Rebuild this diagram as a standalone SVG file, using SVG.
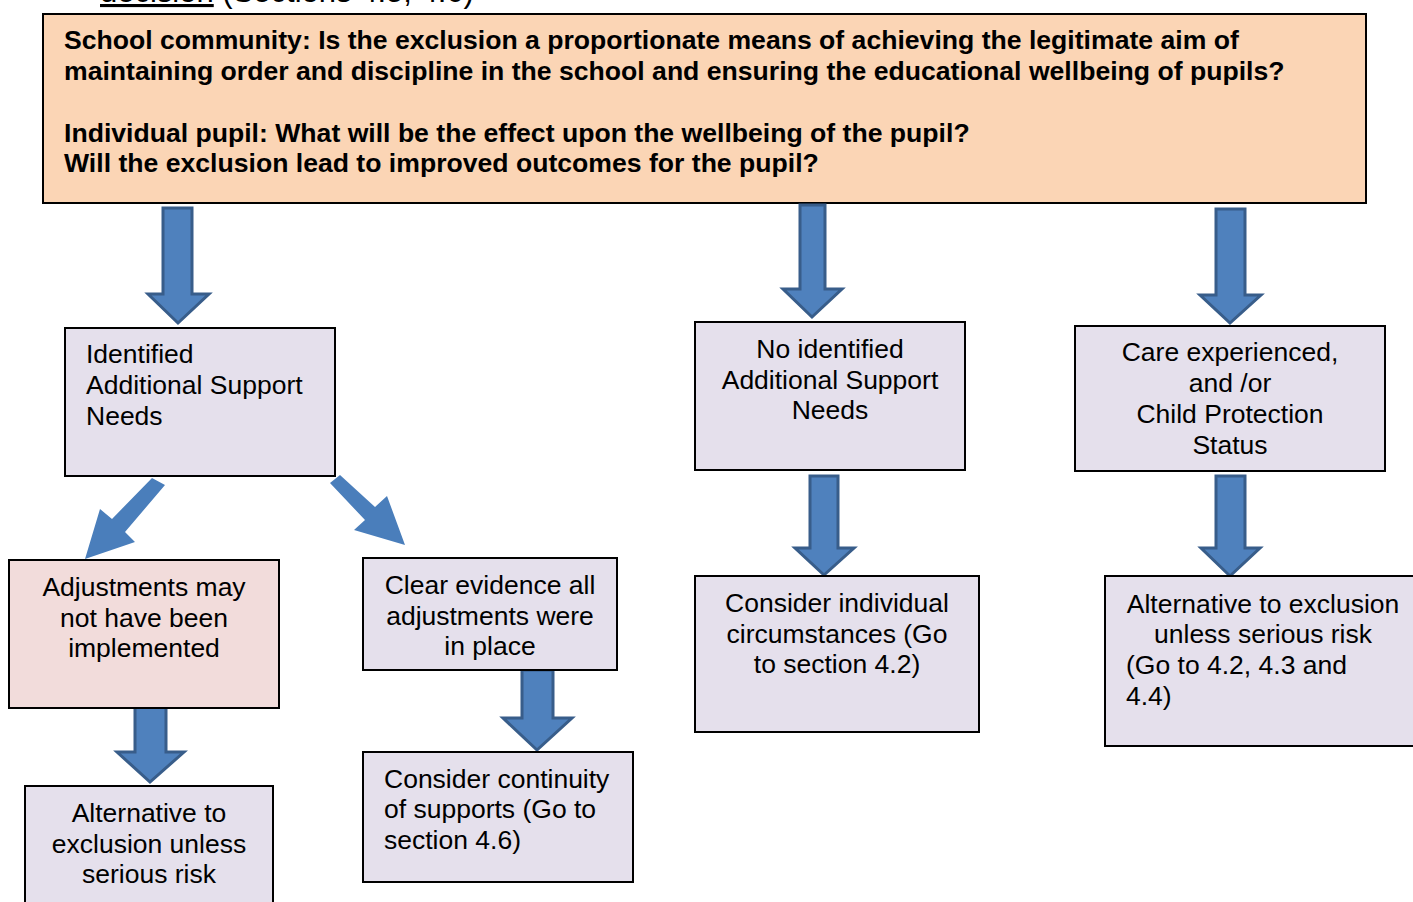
<svg xmlns="http://www.w3.org/2000/svg" width="1413" height="902" viewBox="0 0 1413 902">
<defs>
<style>
.box{stroke:#000;stroke-width:2}
.lav{fill:#E5E0EC}
.pink{fill:#F2DCDB}
.peach{fill:#FBD5B5}
.t{font-family:"Liberation Sans",Arial,sans-serif;font-size:26.5px;fill:#000}
.b{font-family:"Liberation Sans",Arial,sans-serif;font-size:26.6px;font-weight:bold;fill:#000}
.c{text-anchor:middle}
.arr{fill:#4F81BD;stroke:#385D8A;stroke-width:3;stroke-linejoin:miter}
.arrf{fill:#4A7EBB}
</style>
</defs>
<rect width="1413" height="902" fill="#fff"/>
<g id="header-fragment">
<text class="t" x="100" y="2" style="font-size:31px"><tspan text-decoration="underline">decision</tspan> (Sections 4.5, 4.6)</text>
</g>
<g id="top">
<rect class="box peach" x="43" y="14" width="1323" height="189"/>
<text class="b" x="64" y="49">School community: Is the exclusion a proportionate means of achieving the legitimate aim of</text>
<text class="b" x="64" y="80">maintaining order and discipline in the school and ensuring the educational wellbeing of pupils?</text>
<text class="b" x="64" y="142">Individual pupil: What will be the effect upon the wellbeing of the pupil?</text>
<text class="b" x="64" y="172">Will the exclusion lead to improved outcomes for the pupil?</text>
</g>
<g id="connectors">
<polygon class="arr" points="163,208 192,208 192,294 209,294 178,323 148,294 163,294"/>
<polygon class="arr" points="800,205 825,205 825,289 842,289 812,317 783,289 800,289"/>
<polygon class="arr" points="1216,209 1245,209 1245,295 1261,295 1230,323 1200,295 1216,295"/>
<polygon class="arrf" points="152,478 165,485 125,532 135,542 85,559 100,509 112,519"/>
<polygon class="arrf" points="340,475 330,483 365,520 354,530 405,545 387,496 375,507"/>
<polygon class="arr" points="135,705 166,705 166,752 184,752 150,782 117,752 135,752"/>
<polygon class="arr" points="522,670 553,670 553,718 572,718 537,750 503,718 522,718"/>
<polygon class="arr" points="810,476 838,476 838,548 854,548 824,575 795,548 810,548"/>
<polygon class="arr" points="1216,476 1245,476 1245,548 1260,548 1230,576 1201,548 1216,548"/>
</g>
<g id="n-identified">
<rect class="box lav" x="65" y="328" width="270" height="148"/>
<text class="t" x="86" y="363">Identified</text>
<text class="t" x="86" y="394">Additional Support</text>
<text class="t" x="86" y="425">Needs</text>
</g>
<g id="n-noidentified">
<rect class="box lav" x="695" y="322" width="270" height="148"/>
<text class="t c" x="830" y="358">No identified</text>
<text class="t c" x="830" y="389">Additional Support</text>
<text class="t c" x="830" y="419">Needs</text>
</g>
<g id="n-care">
<rect class="box lav" x="1075" y="326" width="310" height="145"/>
<text class="t c" x="1230" y="361">Care experienced,</text>
<text class="t c" x="1230" y="392">and /or</text>
<text class="t c" x="1230" y="423">Child Protection</text>
<text class="t c" x="1230" y="454">Status</text>
</g>
<g id="n-adjustments">
<rect class="box pink" x="9" y="560" width="270" height="148"/>
<text class="t c" x="144" y="596">Adjustments may</text>
<text class="t c" x="144" y="627">not have been</text>
<text class="t c" x="144" y="657">implemented</text>
</g>
<g id="n-clear">
<rect class="box lav" x="363" y="558" width="254" height="112"/>
<text class="t c" x="490" y="594">Clear evidence all</text>
<text class="t c" x="490" y="625">adjustments were</text>
<text class="t c" x="490" y="655">in place</text>
</g>
<g id="n-alt-left">
<rect class="box lav" x="25" y="786" width="248" height="130"/>
<text class="t c" x="149" y="822">Alternative to</text>
<text class="t c" x="149" y="853">exclusion unless</text>
<text class="t c" x="149" y="883">serious risk</text>
</g>
<g id="n-continuity">
<rect class="box lav" x="363" y="752" width="270" height="130"/>
<text class="t" x="384" y="788">Consider continuity</text>
<text class="t" x="384" y="818">of supports (Go to</text>
<text class="t" x="384" y="849">section 4.6)</text>
</g>
<g id="n-individual">
<rect class="box lav" x="695" y="576" width="284" height="156"/>
<text class="t c" x="837" y="612">Consider individual</text>
<text class="t c" x="837" y="643">circumstances (Go</text>
<text class="t c" x="837" y="673">to section 4.2)</text>
</g>
<g id="n-alt-right">
<rect class="box lav" x="1105" y="576" width="320" height="170"/>
<text class="t c" x="1263" y="613">Alternative to exclusion</text>
<text class="t c" x="1263" y="643">unless serious risk</text>
<text class="t" x="1126" y="674">(Go to 4.2, 4.3 and</text>
<text class="t" x="1126" y="705">4.4)</text>
</g>
</svg>
